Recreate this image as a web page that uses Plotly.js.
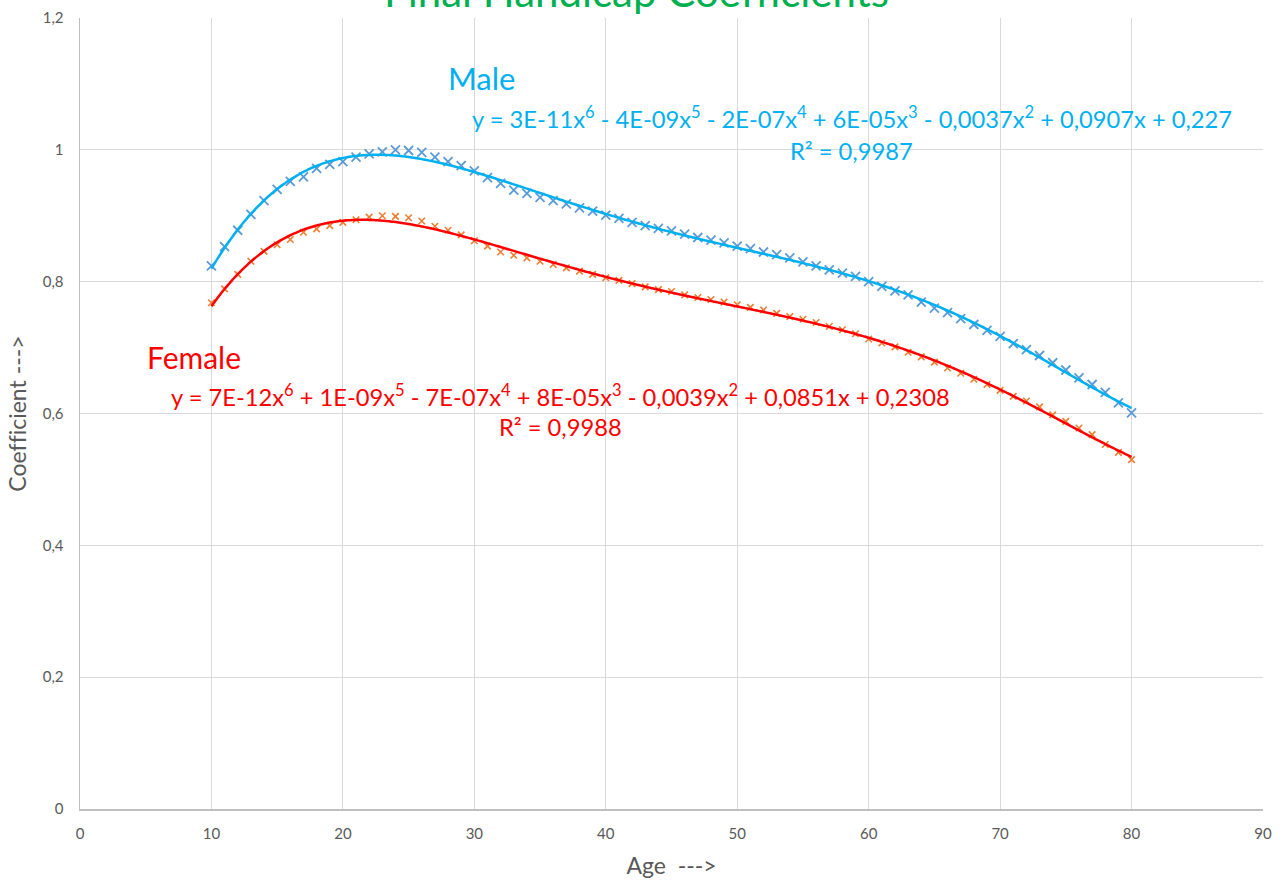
<!DOCTYPE html>
<html>
<head>
<meta charset="utf-8">
<script src="https://cdn.plot.ly/plotly-3.0.1.min.js"></script>
<style>html,body{margin:0;padding:0;background:#fff;}#chart{width:1284px;height:885px;}
svg text{font-variant-ligatures:none;font-feature-settings:"liga" 0;}</style>
</head>
<body>
<div id="chart"></div>
<script>
// Ages 10..80
const ages = [10,11,12,13,14,15,16,17,18,19,20,21,22,23,24,25,26,27,28,29,30,31,32,33,34,35,36,37,38,39,40,41,42,43,44,45,46,47,48,49,50,51,52,53,54,55,56,57,58,59,60,61,62,63,64,65,66,67,68,69,70,71,72,73,74,75,76,77,78,79,80];

const maleCoef = [0.824,0.853,0.878,0.902,0.923,0.940,0.952,0.959,0.972,0.978,0.982,0.989,0.994,0.997,1.000,0.999,0.996,0.989,0.982,0.976,0.968,0.958,0.949,0.939,0.934,0.928,0.923,0.918,0.912,0.907,0.901,0.896,0.890,0.885,0.881,0.877,0.872,0.867,0.863,0.859,0.854,0.850,0.845,0.841,0.836,0.830,0.824,0.818,0.813,0.808,0.800,0.793,0.786,0.780,0.769,0.760,0.753,0.744,0.735,0.726,0.717,0.706,0.697,0.688,0.677,0.666,0.654,0.644,0.632,0.616,0.601];

const femaleCoef = [0.768,0.789,0.811,0.831,0.846,0.856,0.864,0.875,0.880,0.885,0.890,0.894,0.898,0.900,0.899,0.897,0.892,0.884,0.878,0.871,0.862,0.854,0.845,0.840,0.836,0.831,0.826,0.821,0.816,0.811,0.806,0.802,0.797,0.792,0.788,0.785,0.780,0.776,0.773,0.769,0.765,0.761,0.757,0.752,0.747,0.743,0.738,0.732,0.727,0.721,0.713,0.707,0.701,0.693,0.686,0.678,0.669,0.661,0.652,0.644,0.635,0.626,0.619,0.610,0.598,0.588,0.578,0.568,0.553,0.541,0.530];

const xTicks = [0,10,20,30,40,50,60,70,80,90];
const yTicks = [0,0.2,0.4,0.6,0.8,1,1.2];

const titleText = 'Final Handicap Coefficients';
const maleLabel = 'Male';
const maleEq = 'y = 3E-11x<sup>6</sup> - 4E-09x<sup>5</sup> - 2E-07x<sup>4</sup> + 6E-05x<sup>3</sup> - 0,0037x<sup>2</sup> + 0,0907x + 0,227';
const maleR2 = 'R² = 0,9987';
const femaleLabel = 'Female';
const femaleEq = 'y = 7E-12x<sup>6</sup> + 1E-09x<sup>5</sup> - 7E-07x<sup>4</sup> + 8E-05x<sup>3</sup> - 0,0039x<sup>2</sup> + 0,0851x + 0,2308';
const femaleR2 = 'R² = 0,9988';

// Least-squares polynomial (degree 6) trendline, like Excel's
function polyFit(xs, ys, deg) {
  const c = 45, s = 35;
  const n = deg + 1;
  const A = Array.from({length:n}, () => new Array(n+1).fill(0));
  for (let k = 0; k < xs.length; k++) {
    const t = (xs[k]-c)/s;
    const p = [];
    for (let i = 0; i < n; i++) p.push(Math.pow(t,i));
    for (let i = 0; i < n; i++) {
      for (let j = 0; j < n; j++) A[i][j] += p[i]*p[j];
      A[i][n] += p[i]*ys[k];
    }
  }
  for (let i = 0; i < n; i++) {
    let m = i;
    for (let r = i+1; r < n; r++) if (Math.abs(A[r][i]) > Math.abs(A[m][i])) m = r;
    [A[i], A[m]] = [A[m], A[i]];
    for (let r = 0; r < n; r++) {
      if (r === i) continue;
      const f = A[r][i]/A[i][i];
      for (let col = i; col <= n; col++) A[r][col] -= f*A[i][col];
    }
  }
  const coef = A.map((row,i) => row[n]/row[i]);
  return x => { const t = (x-c)/s; let v = 0; for (let i = n-1; i >= 0; i--) v = v*t + coef[i]; return v; };
}
const fm = polyFit(ages, maleCoef, 6);
const ff = polyFit(ages, femaleCoef, 6);
const xs = [];
for (let x = ages[0]; x <= ages[ages.length-1] + 1e-9; x += 0.25) xs.push(x);

const FONT = 'Lato, "Open Sans", sans-serif';
const data = [
  {x: ages, y: maleCoef, mode:'markers', type:'scatter', name:'Male',
   marker:{symbol:'x-thin', size:9, line:{color:'#5B9BD5', width:1.8}, color:'#5B9BD5'}},
  {x: ages, y: femaleCoef, mode:'markers', type:'scatter', name:'Female',
   marker:{symbol:'x-thin', size:6.5, line:{color:'#ED7D31', width:1.6}, color:'#ED7D31'}},
  {x: xs, y: xs.map(fm), mode:'lines', type:'scatter', name:'Male trend',
   line:{color:'#00B0F0', width:2.5, shape:'spline'}},
  {x: xs, y: xs.map(ff), mode:'lines', type:'scatter', name:'Female trend',
   line:{color:'#FF0000', width:2.5, shape:'spline'}}
];

const layout = {
  width:1284, height:885,
  margin:{l:80, r:21, t:18, b:76},
  paper_bgcolor:'#ffffff', plot_bgcolor:'#ffffff',
  showlegend:false,
  separators:',.',
  font:{family:FONT, color:'#595959'},
  xaxis:{range:[0,90], tickvals:xTicks, showgrid:true, gridcolor:'#D9D9D9', gridwidth:1,
    zeroline:false, showline:true, linecolor:'#BFBFBF', linewidth:1.5,
    ticks:'outside', ticklen:10, tickcolor:'rgba(0,0,0,0)',
    tickfont:{size:15, color:'#595959', family:FONT},
    title:{text:'Age  --->', font:{size:23, color:'#595959', family:FONT}, standoff:17}},
  yaxis:{range:[0,1.2], tickvals:yTicks, showgrid:true, gridcolor:'#D9D9D9', gridwidth:1,
    zeroline:false, showline:true, linecolor:'#BFBFBF', linewidth:1.5,
    ticks:'outside', ticklen:12, tickcolor:'rgba(0,0,0,0)',
    tickfont:{size:15, color:'#595959', family:FONT},
    title:{text:'Coefficient --->', font:{size:23, color:'#595959', family:FONT}, standoff:9}},
  annotations:[
    {text:titleText, xref:'paper', yref:'paper', x:0.47, y:1.0, xanchor:'center', yanchor:'bottom',
     showarrow:false, font:{size:42, color:'#00B050', family:FONT}},
    {text:maleLabel, xref:'x', yref:'y', x:30.57, y:1.1097, showarrow:false, xanchor:'center', yanchor:'middle',
     font:{size:31, color:'#00B0F0', family:FONT}},
    {text:maleEq, xref:'x', yref:'y', x:58.7, y:1.049, showarrow:false, xanchor:'center', yanchor:'middle',
     font:{size:23.7, color:'#00B0F0', family:FONT}},
    {text:maleR2, xref:'x', yref:'y', x:58.7, y:0.9975, showarrow:false, xanchor:'center', yanchor:'middle',
     font:{size:23.7, color:'#00B0F0', family:FONT}},
    {text:femaleLabel, xref:'x', yref:'y', x:8.67, y:0.685, showarrow:false, xanchor:'center', yanchor:'middle',
     font:{size:30, color:'#FF0000', family:FONT}},
    {text:femaleEq, xref:'x', yref:'y', x:36.58, y:0.627, showarrow:false, xanchor:'center', yanchor:'middle',
     font:{size:23.7, color:'#FF0000', family:FONT}},
    {text:femaleR2, xref:'x', yref:'y', x:36.58, y:0.579, showarrow:false, xanchor:'center', yanchor:'middle',
     font:{size:23.7, color:'#FF0000', family:FONT}}
  ]
};

Plotly.newPlot('chart', data, layout, {displayModeBar:false, staticPlot:true});
</script>
</body>
</html>
